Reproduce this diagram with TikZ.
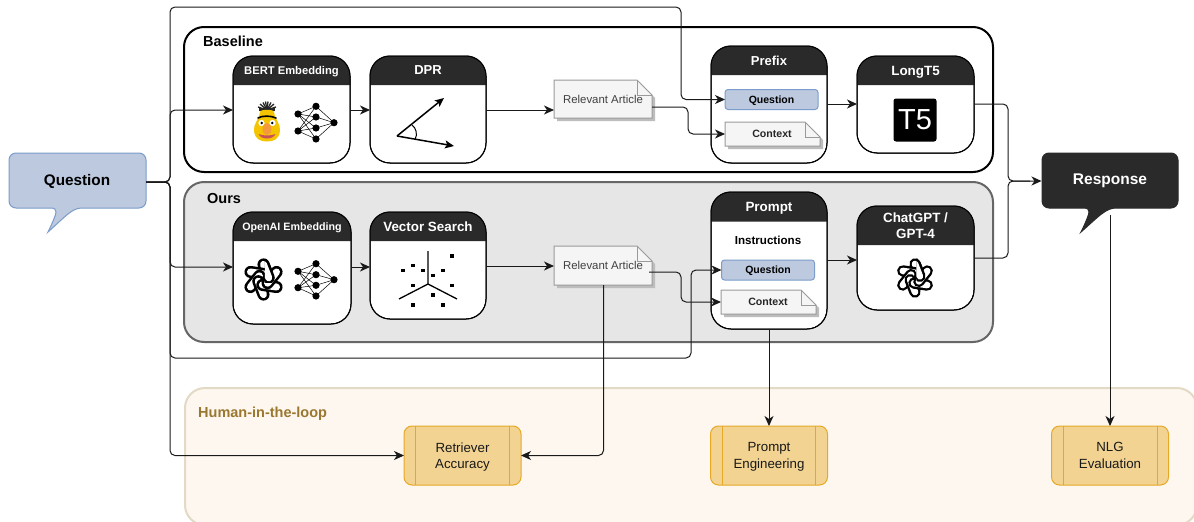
\documentclass[tikz,border=0pt]{standalone}
\usepackage{fontspec}
\setmainfont{Liberation Sans}
\usetikzlibrary{arrows.meta}
\definecolor{hdr}{HTML}{2A2A2A}
\definecolor{chipfill}{HTML}{BCC9DE}
\definecolor{chipline}{HTML}{7C9CCB}
\definecolor{oursfill}{HTML}{E6E6E6}
\definecolor{hitlfill}{HTML}{FEF7F0}
\definecolor{hitlline}{HTML}{E3DAC6}
\definecolor{hitltext}{HTML}{9A7830}
\definecolor{taskfill}{HTML}{F2D392}
\definecolor{taskline}{HTML}{E6A925}
\definecolor{docfill}{HTML}{F5F5F5}
\definecolor{docline}{HTML}{9A9A9A}
\definecolor{docshadow}{HTML}{BDBDBD}
\definecolor{bertyellow}{HTML}{F5C400}
\definecolor{bertnose}{HTML}{F39A3C}
\definecolor{bertmouth}{HTML}{C8505A}
\newcommand\fs[1]{\fontsize{#1}{#1}\selectfont}
\tikzset{
  x=1pt,y=-1pt,
  every node/.style={text depth=0pt},
  tip/.style={-{Stealth[length=10pt,width=9pt,inset=3pt]}},
  wire/.style={draw=black!90,line width=1pt,rounded corners=5pt},
  conn/.style={wire,tip},
  cardbox/.style={rectangle,draw=black,fill=white,line width=1pt,rounded corners=20pt,inner sep=0pt,outer sep=0pt},
  container/.style={rectangle,rounded corners=20pt,inner sep=0pt,outer sep=0pt},
  chip/.style={rectangle,draw=chipline,fill=chipfill,line width=1pt,rounded corners=3pt,inner sep=0pt,outer sep=0pt,font=\bfseries\fs{10.5},text=black},
  taskbox/.style={rectangle,draw=taskline,fill=taskfill,line width=1pt,rounded corners=8pt,inner sep=0pt,outer sep=0pt,align=center,font=\fs{13.3},text=black!90},
  nnlink/.style={black,line width=.5pt},
  lbl/.style={anchor=west,inner sep=0pt,font=\bfseries\fs{14.5}},
}
% name x1 y1 x2 y2 headerbottom size title
\newcommand\card[8]{%
  \pgfmathsetmacro\cw{#4-#2}\pgfmathsetmacro\ch{#5-#3}%
  \node[cardbox,minimum width=\cw pt,minimum height=\ch pt] (#1) at ({(#2+#4)/2},{(#3+#5)/2}) {};
  \fill[hdr] (#2,#6) [rounded corners=20pt] -- (#2,#3) -- (#4,#3) [sharp corners] -- (#4,#6) -- cycle;
  \node[text=white,font=\bfseries\fs{#7},align=center,inner sep=0pt] (#1title) at ({(#2+#4)/2},{(#3+#6)/2}) {#8};
  \draw[black,line width=1pt,rounded corners=20pt] (#1.north west) rectangle (#1.south east);
}
% name x1 y1 x2 y2
\newcommand\docshape[5]{%
  \pgfmathsetmacro\cw{#4-#2}\pgfmathsetmacro\ch{#5-#3}%
  \fill[docshadow] (#2+3,#3+3) -- (#4-12,#3+3) -- (#4+3,#3+18) -- (#4+3,#5+3) -- (#2+3,#5+3) -- cycle;
  \draw[docline,fill=docfill,line width=1pt] (#2,#3) -- (#4-15,#3) -- (#4,#3+15) -- (#4,#5) -- (#2,#5) -- cycle;
  \draw[docline,line width=1pt] (#4-15,#3) -- (#4-15,#3+15) -- (#4,#3+15);
  \node[minimum width=\cw pt,minimum height=\ch pt,inner sep=0pt,outer sep=0pt] (#1) at ({(#2+#4)/2},{(#3+#5)/2}) {};
}
\newcommand\nnet[7]{%
  \foreach \a in {#1,#2} \foreach \b in {#3,#4,#5,#6} \draw[nnlink] (298,\a) -- (316,\b);
  \foreach \b in {#3,#4,#5,#6} \draw[nnlink] (316,\b) -- (334,#7);
  \foreach \a in {#1,#2} \fill (298,\a) circle (3.6pt);
  \foreach \b in {#3,#4,#5,#6} \fill (316,\b) circle (3.6pt);
  \fill (334,#7) circle (3.6pt);
}
% one strand of the logo
\newcommand\strand[2]{%
  \draw[rotate=#1,black,line width=#2*10.6pt,line cap=round] (0,-13.2*#2) -- (4.6*#2,-1.5*#2);
  \draw[rotate=#1,white,line width=#2*6.1pt,line cap=round] (0,-13.2*#2) -- (4.6*#2,-1.5*#2);
}
\newcommand\knot[3]{%
  \begin{scope}[shift={(#1,#2)}]
    \foreach \r in {0,60,...,300}{\strand{\r}{#3}}
    \begin{scope}
      \clip (1.2*#3,-25*#3) rectangle (25*#3,3*#3);
      \strand{0}{#3}
    \end{scope}
  \end{scope}
}
\begin{document}
\begin{tikzpicture}
\useasboundingbox (0,0) rectangle (1194,522);
\fill[white] (0,0) rectangle (1194,522);

% containers
\node[container,draw=hitlline,fill=hitlfill,line width=2pt,minimum width=1012pt,minimum height=137pt] (hitl) at (691,456.5) {};
\node[container,draw=black,fill=white,line width=2pt,minimum width=809pt,minimum height=145pt] (base) at (588.5,99.5) {};
\node[container,draw=black!60,fill=oursfill,line width=2pt,minimum width=809pt,minimum height=160pt] (ours) at (588.5,262) {};
\node[lbl] (baselbl) at (203,41) {Baseline};
\node[lbl] (ourslbl) at (207,198) {Ours};
\node[lbl,text=hitltext] (hitllbl) at (198,412) {Human-in-the-loop};

% callouts
\node[inner sep=0pt,outer sep=0pt,minimum width=137pt,minimum height=55pt] (q) at (77.5,180.5) {};
\draw[chipline,fill=chipfill,line width=1pt,rounded corners=7pt]
  (9,153) -- (146,153) -- (146,208) [sharp corners] -- (82,208) .. controls (72,208) and (66,216) .. (48,232)
  .. controls (53,222) and (56,214) .. (56,212) .. controls (56,209) and (54,208) .. (52,208) [rounded corners=7pt] -- (9,208) -- cycle;
\node[font=\bfseries\fs{15.3},text=black,inner sep=0pt] (qtxt) at (77,179.5) {Question};
\node[inner sep=0pt,outer sep=0pt,minimum width=137pt,minimum height=55pt] (r) at (1110,180.5) {};
\draw[hdr,fill=hdr,line width=1pt,rounded corners=7pt]
  (1042,153) -- (1178,153) -- (1178,208) [sharp corners] -- (1116,208) .. controls (1106,208) and (1099,216) .. (1081,232)
  .. controls (1086,222) and (1089,214) .. (1089,212) .. controls (1089,209) and (1087,208) .. (1085,208) [rounded corners=7pt] -- (1042,208) -- cycle;
\node[font=\bfseries\fs{15.5},text=white,inner sep=0pt] (rtxt) at (1110,179.5) {Response};

% cards
\card{bert}{233}{56}{350}{163}{85}{11.2}{BERT Embedding}
\card{dpr}{370}{56}{486}{163}{85}{13}{DPR}
\card{prefix}{711}{46}{827}{163}{75}{13}{Prefix}
\card{long}{857}{56}{974}{153}{85}{13.4}{LongT5}
\card{oai}{233}{212}{351}{324}{241}{10.7}{OpenAI Embedding}
\card{vec}{370}{212}{486}{319}{241}{13.4}{Vector Search}
\card{prompt}{711}{192}{827}{329}{221.5}{13.4}{Prompt}
\card{gpt}{857}{206}{974}{310}{245}{13.4}{ChatGPT /\\[2.6pt]GPT-4}

% inner elements
\node[chip,minimum width=93pt,minimum height=20pt] (q1) at (771.5,99.5) {Question};
\node[chip,minimum width=93pt,minimum height=20pt] (q2) at (768,270) {Question};
\docshape{art1}{554}{80}{652}{118}
\docshape{art2}{554}{246}{652}{285}
\docshape{ctx1}{725}{122}{820}{146}
\docshape{ctx2}{721}{290}{816}{314}
\node[font=\fs{11.4},text=black!75,inner sep=0pt] (art1t) at (603,99) {Relevant Article};
\node[font=\fs{11.4},text=black!75,inner sep=0pt] (art2t) at (603,265) {Relevant Article};
\node[font=\bfseries\fs{10.6},text=black!85,inner sep=0pt] (ctx1t) at (772,134) {Context};
\node[font=\bfseries\fs{10.6},text=black!85,inner sep=0pt] (ctx2t) at (768,302) {Context};
\node[font=\bfseries\fs{11.6},inner sep=0pt] (instr) at (768,240) {Instructions};

% tasks
\node[taskbox,minimum width=117pt,minimum height=59pt] (t1) at (462.5,455.5) {Retriever\\[3.3pt]Accuracy};
\node[taskbox,minimum width=117pt,minimum height=59pt] (t2) at (769,455.5) {Prompt\\[3.3pt]Engineering};
\node[taskbox,minimum width=117pt,minimum height=59pt] (t3) at (1110,455.5) {NLG\\[3.3pt]Evaluation};
\draw[taskline,line width=1pt] (415.5,426) -- (415.5,485) (509,426) -- (509,485);
\draw[taskline,line width=1pt] (722.5,426) -- (722.5,485) (815.5,426) -- (815.5,485);
\draw[taskline,line width=1pt] (1063.5,426) -- (1063.5,485) (1157,426) -- (1157,485);

% icons: Bert
\foreach \hx/\hy in {260/104,263/102.5,265.5/101.5,268/101.5,271/102.5,274/104,258/107,276/107}
  \draw[black!85,line width=1.3pt] (267,110) -- (\hx,\hy);
\fill[black!85] (259,107.5) rectangle (275,110.5);
\fill[bertyellow] (260,112) .. controls (260,109) and (274,109) .. (274,112) .. controls (275,120) and (281,124) .. (280,131) .. controls (279,139) and (274,141.5) .. (267,141.5) .. controls (260,141.5) and (255,139) .. (254,131) .. controls (253,124) and (259,120) .. (260,112) -- cycle;
\draw[black,line width=1.6pt,line cap=round] (258,118) .. controls (262,115.5) and (271,115.5) .. (276,118);
\fill[white] (261.5,123) circle (3.1pt) (272.5,123) circle (3.1pt);
\fill[black] (261.8,123) circle (1.4pt) (272.2,123) circle (1.4pt);
\fill[bertmouth] (258.5,134) .. controls (263,136) and (271,136) .. (275.5,134) .. controls (273,140) and (261,140) .. (258.5,134) -- cycle;
\fill[bertnose] (267,129) ellipse (4.5pt and 6pt);
\nnet{114}{131}{106.3}{117}{128}{139}{122.7}
\knot{263.5}{279.5}{1.14}
\nnet{271.3}{287.7}{263.7}{274.7}{285.3}{296}{279.7}
\knot{915}{278}{1.07}

% DPR icon
\draw[black,line width=1.5pt,-{Stealth[length=9pt,width=8pt,inset=2pt]}] (397,136) -- (444,98);
\draw[black,line width=1.5pt,-{Stealth[length=9pt,width=8pt,inset=2pt]}] (397,136) -- (454,146);
\draw[black,line width=1pt] (412,125) .. controls (416,128) and (418,134) .. (415,139.5);

% vector icon
\draw[black,line width=1.3pt] (428,284) -- (428,251) (428,284) -- (399,299) (428,284) -- (457,299);
\foreach \px/\py in {452/256,413/265.7,403/270.7,423/270.7,443/270.7,433/275.7,413/285.3,452/285.3,433/295,413/305,443/305}
  \fill[black] (\px-1.6,\py-1.6) rectangle (\px+1.6,\py+1.6);

% T5 logo
\node[fill=black,rounded corners=2.5pt,minimum width=43pt,minimum height=43pt,inner sep=0pt,text=white,font=\fs{29}] (t5) at (915,120) {T5};

% connectors
\coordinate (j) at (170,182);
\coordinate (jr) at (1008,181);
\draw[conn] (q.east |- j) -- (j) -- (170,7) -- (681,7) -- (681,99.5) -- (q1.west);
\draw[conn] (q.east |- j) -- (j) -- (170,110) -- (233,110);
\draw[conn] (q.east |- j) -- (j) -- (170,267) -- (233,267);
\draw[conn] (q.east |- j) -- (j) -- (170,358) -- (691,358) -- (691,270) -- (q2.west);
\draw[conn] (q.east |- j) -- (j) -- (170,455.5) -- (t1.west);
\draw[conn] (350,110) -- (370,110);
\draw[conn] (351,267) -- (370,267);
\draw[conn] (486,110) -- (554,110);
\draw[conn] (486,266) -- (554,266);
\draw[conn] (652,107) -- (688,107) -- (688,134) -- (725,134);
\draw[conn] (649,272) -- (681,272) -- (681,302) -- (721,302);
\draw[conn] (827,104) -- (857,104);
\draw[conn] (827,260) -- (857,260);
\draw[conn] (974,104) -- (1008,104) -- (jr) -- (r.west |- jr);
\draw[wire] (974,258) -- (1008,258) -- (jr) -- (1030,181);
\draw[conn] (603.5,285) -- (603.5,455.5) -- (t1.east);
\draw[conn] (769,329) -- (t2.north);
\draw[conn] (1110,215) -- (t3.north);
\end{tikzpicture}
\end{document}
